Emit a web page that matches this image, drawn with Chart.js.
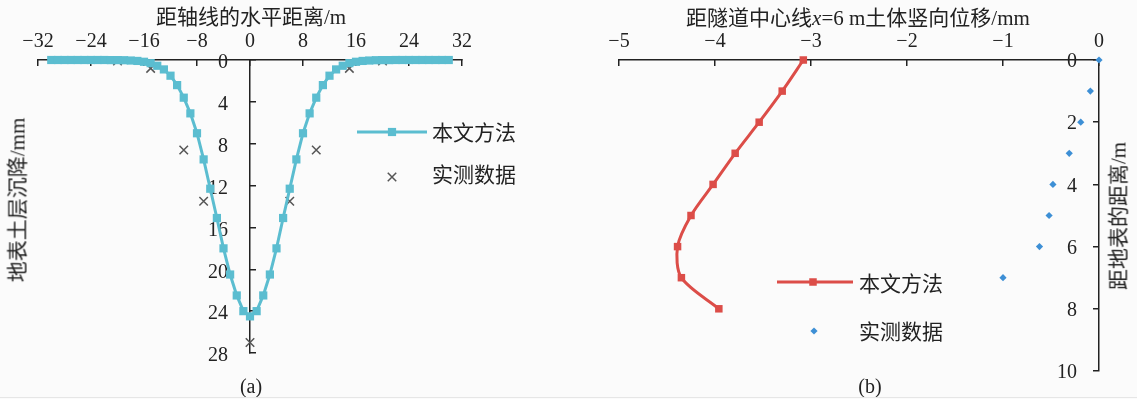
<!DOCTYPE html>
<html>
<head>
<meta charset="utf-8">
<script src="https://cdn.jsdelivr.net/npm/chart.js@4.4.1/dist/chart.umd.min.js"></script>
<style>
  html, body { margin: 0; padding: 0; background: #fbfbfb; }
  #wrap { position: relative; width: 1137px; height: 399px; overflow: hidden; background: #fbfbfb;
          font-family: 'Liberation Serif', 'Noto Sans CJK SC', serif; color: #222; }
  canvas { position: absolute; top: 0; }
  #left { left: 0; }
  #right { left: 560px; }
  .t { position: absolute; white-space: nowrap; font-size: 21px; line-height: 1; }
  .ctr { transform: translate(-50%, -50%); }
  .rot { transform: translate(-50%, -50%) rotate(-90deg); }
  #base { position: absolute; left: 0; width: 1137px; top: 397px; height: 1px; background: #e6e6e6; }
</style>
</head>
<body>
<div id="wrap">
  <canvas id="left" width="560" height="399"></canvas>
  <canvas id="right" width="577" height="399"></canvas>
  <div class="t ctr" style="left:251px; top:17px;">距轴线的水平距离/m</div>
  <div class="t ctr" style="left:858px; top:18px;">距隧道中心线<i>x</i>=6 m土体竖向位移/mm</div>
  <div class="t rot" style="left:18px; top:200px;">地表土层沉降/mm</div>
  <div class="t rot" style="left:1119px; top:216px;">距地表的距离/m</div>
  <div class="t ctr" style="left:251px; top:386px; font-size:20px;">(a)</div>
  <div class="t ctr" style="left:870px; top:386px; font-size:20px;">(b)</div>
  <div id="base"></div>
</div>
<script>
// ---- (a) surface settlement across the tunnel axis ----
const offsetM = [-30, -29, -28, -27, -26, -25, -24, -23, -22, -21, -20, -19, -18, -17, -16, -15,
                 -14, -13, -12, -11, -10, -9, -8, -7, -6, -5, -4, -3, -2, -1, 0,
                 1, 2, 3, 4, 5, 6, 7, 8, 9, 10, 11, 12, 13, 14, 15,
                 16, 17, 18, 19, 20, 21, 22, 23, 24, 25, 26, 27, 28, 29, 30];
const settlementCalc = [0, 0, 0, 0, 0, 0, 0, 0, 0, 0.01, 0.01, 0.02, 0.05, 0.09, 0.17, 0.3,
                        0.55, 0.9, 1.5, 2.4, 3.6, 5.1, 7.0, 9.5, 12.3, 15.1, 18.0, 20.5, 22.5, 24.0, 24.5,
                        24.0, 22.5, 20.5, 18.0, 15.1, 12.3, 9.5, 7.0, 5.1, 3.6, 2.4, 1.5, 0.9, 0.55, 0.3,
                        0.17, 0.09, 0.05, 0.02, 0.01, 0.01, 0, 0, 0, 0, 0, 0, 0, 0, 0];
const measuredOffsetM = [-20, -15, -10, -7, 0, 6, 10, 15, 20];
const settlementMeasured = [0.1, 0.8, 8.6, 13.5, 27.0, 13.5, 8.6, 0.8, 0.1];
const offsetTicks = [-32, -24, -16, -8, 0, 8, 16, 24, 32];
const settlementTicks = [0, 4, 8, 12, 16, 20, 24, 28];

// ---- (b) vertical soil displacement at x = 6 m versus depth ----
const depthM = [0, 1, 2, 3, 4, 5, 6, 7, 8];
const dispCalc = [-3.08, -3.30, -3.54, -3.79, -4.02, -4.25, -4.39, -4.35, -3.96];
const depthMeasuredM = [0, 1, 2, 3, 4, 5, 6, 7];
const dispMeasured = [0, -0.09, -0.19, -0.31, -0.48, -0.52, -0.62, -1.00];
const dispTicks = [-5, -4, -3, -2, -1, 0];
const depthTicks = [0, 2, 4, 6, 8, 10];

const seriesNames = ['本文方法', '实测数据'];

const INK = '#222222';
const CYAN = '#5bbdd0';
const RED = '#dc4d48';
const BLUE = '#3d8fd5';
const GREY = '#555555';
const tickFont = { family: "'Liberation Serif', serif", size: 20 };
const fmt = v => String(v).replace('-', '\u2212');
const useTicks = list => scale => { scale.ticks = list.map(v => ({ value: v })); };

const pairs = (xs, ys) => xs.map((x, i) => ({ x: x, y: ys[i] }));

// The vertical axis takes no room in the layout; afterwards its right edge is
// moved onto x = 0 so that it crosses the horizontal axis there. Its box is
// widened to the canvas edge so the tick labels are not clipped away.
const anchorValueAxis = {
  id: 'anchorValueAxis',
  afterLayout(chart) {
    const px = chart.scales.x.getPixelForValue(0);
    const ys = chart.scales.y;
    ys.left = 0;
    ys.right = px;
    ys.width = px;
  }
};

// Legend drawn inside the plot area, using each dataset's own line and point style
const panelLegend = {
  id: 'panelLegend',
  afterDraw(chart, args, opts) {
    const ctx = chart.ctx;
    (opts.rows || []).forEach((row, i) => {
      const ds = chart.data.datasets[i];
      ctx.save();
      if (ds.showLine) {
        ctx.strokeStyle = ds.borderColor;
        ctx.lineWidth = ds.borderWidth;
        ctx.beginPath();
        ctx.moveTo(row.x0, row.y);
        ctx.lineTo(row.x1, row.y);
        ctx.stroke();
      }
      ctx.fillStyle = ds.pointBackgroundColor;
      ctx.strokeStyle = ds.pointBorderColor;
      ctx.lineWidth = ds.pointBorderWidth;
      Chart.helpers.drawPoint(ctx, {
        pointStyle: ds.pointStyle, radius: ds.pointRadius, rotation: 0,
        borderWidth: ds.pointBorderWidth
      }, row.mx, row.y);
      ctx.fillStyle = INK;
      ctx.font = "21px 'Liberation Serif', 'Noto Sans CJK SC', serif";
      ctx.textBaseline = 'middle';
      ctx.textAlign = 'left';
      ctx.fillText(ds.label, row.tx, row.ty);
      ctx.restore();
    });
  }
};

const axisLine = { color: INK, width: 1.5 };

// (a)
new Chart(document.getElementById('left'), {
  type: 'scatter',
  data: {
    datasets: [
      {
        label: seriesNames[0],
        data: pairs(offsetM, settlementCalc),
        showLine: true, borderColor: CYAN, borderWidth: 3, tension: 0,
        pointStyle: 'rect', pointRadius: 5.8, pointBorderWidth: 0,
        pointBackgroundColor: CYAN, pointBorderColor: CYAN, clip: false
      },
      {
        label: seriesNames[1],
        data: pairs(measuredOffsetM, settlementMeasured),
        showLine: false,
        pointStyle: 'crossRot', pointRadius: 6, pointBorderWidth: 1.5,
        pointBackgroundColor: GREY, pointBorderColor: GREY, clip: false
      }
    ]
  },
  options: {
    responsive: false, animation: false, events: [],
    layout: { padding: { left: 38, right: 98, top: 0, bottom: 46 } },
    plugins: {
      legend: { display: false }, tooltip: { enabled: false },
      panelLegend: { rows: [
        { x0: 357, x1: 427, mx: 392, y: 132, tx: 432, ty: 134 },
        { mx: 392, y: 177, tx: 432, ty: 176 }
      ] }
    },
    scales: {
      x: {
        type: 'linear', position: 'top', min: -32, max: 32,
        afterBuildTicks: useTicks(offsetTicks),
        afterFit(s) { s.height = 60; },
        ticks: { font: tickFont, color: INK, padding: 12, callback: fmt, maxRotation: 0 },
        grid: { drawOnChartArea: false, tickLength: -6, color: INK, lineWidth: 1.5 },
        border: axisLine
      },
      y: {
        type: 'linear', position: 'left', reverse: true, min: 0, max: 28,
        afterBuildTicks: useTicks(settlementTicks),
        afterFit(s) { s.width = 0; },
        ticks: { font: tickFont, color: INK, padding: 28, labelOffset: 3, callback: fmt },
        grid: { drawOnChartArea: false, tickLength: -6, color: INK, lineWidth: 1.5 },
        border: axisLine
      }
    }
  },
  plugins: [anchorValueAxis, panelLegend]
});

// (b)
new Chart(document.getElementById('right'), {
  type: 'scatter',
  data: {
    datasets: [
      {
        label: seriesNames[0],
        data: pairs(dispCalc, depthM),
        showLine: true, borderColor: RED, borderWidth: 3, tension: 0.3,
        pointStyle: 'rect', pointRadius: 5.3, pointBorderWidth: 0,
        pointBackgroundColor: RED, pointBorderColor: RED, clip: false
      },
      {
        label: seriesNames[1],
        data: pairs(dispMeasured, depthMeasuredM),
        showLine: false,
        pointStyle: 'rectRot', pointRadius: 3.6, pointBorderWidth: 0,
        pointBackgroundColor: BLUE, pointBorderColor: BLUE, clip: false
      }
    ]
  },
  options: {
    responsive: false, animation: false, events: [],
    layout: { padding: { left: 59, right: 38, top: 0, bottom: 19 } },
    plugins: {
      legend: { display: false }, tooltip: { enabled: false },
      panelLegend: { rows: [
        { x0: 217, x1: 293, mx: 253, y: 282, tx: 299, ty: 285 },
        { mx: 254, y: 331, tx: 299, ty: 333 }
      ] }
    },
    scales: {
      x: {
        type: 'linear', position: 'top', min: -5, max: 0,
        afterBuildTicks: useTicks(dispTicks),
        afterFit(s) { s.height = 60; },
        ticks: { font: tickFont, color: INK, padding: 12, callback: fmt, maxRotation: 0 },
        grid: { drawOnChartArea: false, tickLength: -6, color: INK, lineWidth: 1.5 },
        border: axisLine
      },
      y: {
        type: 'linear', position: 'left', reverse: true, min: 0, max: 10,
        afterBuildTicks: useTicks(depthTicks),
        afterFit(s) { s.width = 0; },
        ticks: { font: tickFont, color: INK, padding: 16, labelOffset: 2, callback: fmt },
        grid: { drawOnChartArea: false, tickLength: 6, color: INK, lineWidth: 1.5 },
        border: axisLine
      }
    }
  },
  plugins: [anchorValueAxis, panelLegend]
});
</script>
</body>
</html>
